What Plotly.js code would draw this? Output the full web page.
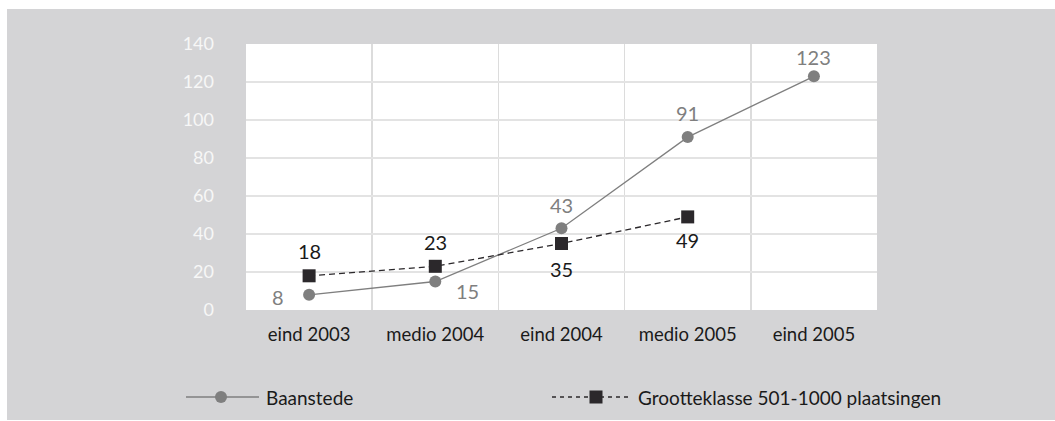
<!DOCTYPE html>
<html>
<head>
<meta charset="utf-8">
<script src="https://cdn.plot.ly/plotly-3.0.1.min.js"></script>
<style>
  html, body { margin: 0; padding: 0; background: #ffffff; }
  #chart { position: absolute; left: 7px; top: 9px; width: 1048px; height: 411px; }
</style>
</head>
<body>
<div id="chart"></div>
<script>
// Periods on the x axis
const periods = ['eind 2003', 'medio 2004', 'eind 2004', 'medio 2005', 'eind 2005'];

// Baanstede
const baanstede = [8, 15, 43, 91, 123];

// Grootteklasse 501-1000 plaatsingen (no value for eind 2005)
const grootteklasse = [18, 23, 35, 49, null];

// Y axis ticks
const yTicks = [0, 20, 40, 60, 80, 100, 120, 140];

const seriesNames = ['Baanstede', 'Grootteklasse 501-1000 plaatsingen'];

// Value-label offsets in pixels [dx, dy] (dy positive = up)
const baanstedeLabelShift = [[-31, -2], [32, -9], [0, 23], [0, 24], [0, 19]];
const grootteklasseLabelShift = [[0, 25], [0, 24], [0, -25], [0, -23], [0, 0]];

const grey = '#7f7f7f';
const dark = '#2b282b';
const fontFamily = 'Lato, "Open Sans", sans-serif';

const traces = [
  {
    type: 'scatter', mode: 'lines+markers',
    name: seriesNames[0],
    x: periods, y: baanstede,
    line: { color: grey, width: 1.3 },
    marker: { symbol: 'circle', size: 12, color: grey },
    cliponaxis: false, showlegend: false, hoverinfo: 'x+y'
  },
  {
    type: 'scatter', mode: 'lines+markers',
    name: seriesNames[1],
    x: periods, y: grootteklasse,
    line: { color: dark, width: 1.3, dash: '6px,4px' },
    marker: { symbol: 'square', size: 13, color: dark },
    cliponaxis: false, showlegend: false, hoverinfo: 'x+y'
  }
];

// Value labels attached to the data points
const annotations = [];
periods.forEach((p, i) => {
  if (baanstede[i] != null) {
    annotations.push({
      x: p, y: baanstede[i], xref: 'x', yref: 'y',
      text: String(baanstede[i]), showarrow: false,
      xshift: baanstedeLabelShift[i][0], yshift: baanstedeLabelShift[i][1],
      font: { family: fontFamily, size: 20, color: grey }
    });
  }
  if (grootteklasse[i] != null) {
    annotations.push({
      x: p, y: grootteklasse[i], xref: 'x', yref: 'y',
      text: String(grootteklasse[i]), showarrow: false,
      xshift: grootteklasseLabelShift[i][0], yshift: grootteklasseLabelShift[i][1],
      font: { family: fontFamily, size: 20, color: '#1a1a1a' }
    });
  }
});

// Legend drawn below the plot area (paper coordinates)
const plotL = 239, plotW = 631, plotB = 110, plotH = 266;
const px = v => (v - (plotL + 7)) / plotW;          // page x -> paper x
const py = v => ((9 + 35 + plotH) - v) / plotH;     // page y -> paper y
const legendY = 397;

const shapes = [
  // Baanstede key
  { type: 'line', xref: 'paper', yref: 'paper', x0: px(186), x1: px(259), y0: py(legendY), y1: py(legendY),
    line: { color: grey, width: 1.3 } },
  { type: 'circle', xref: 'paper', yref: 'paper', x0: px(215), x1: px(227), y0: py(legendY - 6), y1: py(legendY + 6),
    fillcolor: grey, line: { width: 0 } },
  // Grootteklasse key
  { type: 'line', xref: 'paper', yref: 'paper', x0: px(552), x1: px(631), y0: py(legendY), y1: py(legendY),
    line: { color: dark, width: 1.3, dash: '4px,4px' } },
  { type: 'rect', xref: 'paper', yref: 'paper', x0: px(589.5), x1: px(602.5), y0: py(legendY - 6.5), y1: py(legendY + 6.5),
    fillcolor: dark, line: { width: 0 } }
];

annotations.push(
  { xref: 'paper', yref: 'paper', x: px(264), y: py(legendY), xanchor: 'left', yanchor: 'middle',
    text: seriesNames[0], showarrow: false, font: { family: fontFamily, size: 19, color: '#1a1a1a' } },
  { xref: 'paper', yref: 'paper', x: px(636), y: py(legendY), xanchor: 'left', yanchor: 'middle',
    text: seriesNames[1], showarrow: false, font: { family: fontFamily, size: 19, color: '#1a1a1a' } }
);

const layout = {
  width: 1048, height: 411,
  margin: { l: plotL, r: 178, t: 35, b: plotB },
  paper_bgcolor: '#d4d4d6',
  plot_bgcolor: '#ffffff',
  showlegend: false,
  xaxis: {
    type: 'category',
    range: [-0.5, periods.length - 0.5],
    tickson: 'boundaries',
    ticks: '', showline: false, zeroline: false,
    showgrid: true, gridcolor: '#dcdcdc', gridwidth: 1.5,
    ticklabelstandoff: 11,
    tickfont: { family: fontFamily, size: 18.5, color: '#1a1a1a' },
    fixedrange: true
  },
  yaxis: {
    range: [0, 140],
    tickvals: yTicks,
    ticks: '', showline: false, zeroline: false,
    showgrid: true, gridcolor: '#e3e3e3', gridwidth: 1.5,
    ticklabelstandoff: 31,
    tickfont: { family: fontFamily, size: 18, color: '#f7f7f7' },
    fixedrange: true
  },
  shapes: shapes,
  annotations: annotations,
  font: { family: fontFamily }
};

Plotly.newPlot('chart', traces, layout, { displayModeBar: false, staticPlot: true });
</script>
</body>
</html>
